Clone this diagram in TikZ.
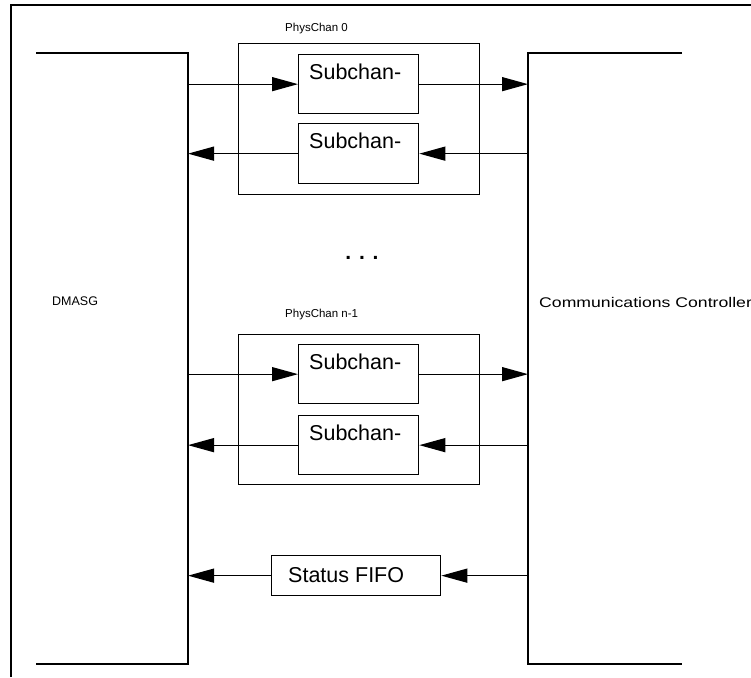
\documentclass[tikz,border=0pt]{standalone}
\usepackage{fontspec}
\setmainfont{Liberation Sans}
\usetikzlibrary{arrows.meta}
\begin{document}
\begin{tikzpicture}[x=1pt,y=-1pt,
  ln/.style={line width=1.3pt},
  box/.style={draw,line width=1.3pt,inner sep=0pt,anchor=north west},
  arr/.style={line width=1.3pt,-{Triangle[length=26pt,width=14pt]}},
  big/.style={font=\fontsize{21.5}{24}\selectfont,inner sep=0pt,anchor=base west},
  small/.style={font=\fontsize{11.5}{13}\selectfont,inner sep=0pt,anchor=base west}]
\useasboundingbox (0,0) rectangle (751,677);
\fill[white] (0,0) rectangle (751,677);
% page frame
\draw[line width=1.5pt] (11,677) -- (11,5) -- (751,5);
% bracket coordinates
\coordinate (L) at (188,53);
\coordinate (R) at (528,53);
\draw[ln] (36,53) -- (L) -- (188,664) -- (36,664);
\draw[ln] (682,53) -- (R) -- (528,664) -- (682,664);
% labels of the two sides
\node[small,font=\fontsize{12.5}{14}\selectfont] (dmasg) at (52,305) {DMASG};
\node[small,font=\fontsize{14}{16}\selectfont] (cc) at (539,307) {\scalebox{1.26}[1]{Communications Controller}};
% PhysChan 0
\node[small] (p0lab) at (285,32) {PhysChan 0};
\node[box,minimum width=241pt,minimum height=151pt] (p0) at (238,43) {};
\node[box,minimum width=120pt,minimum height=59pt] (a1) at (298,54) {};
\node[big] (a1t) at (309,79) {Subchan-};
\node[box,minimum width=120pt,minimum height=60pt] (a2) at (298,123) {};
\node[big] (a2t) at (309,148) {Subchan-};
% dots
\node[font=\bfseries\fontsize{21}{24}\selectfont,inner sep=0pt] (dots) at (362,258) {. . .};
% PhysChan n-1
\node[small] (p1lab) at (285,317) {PhysChan n-1};
\node[box,minimum width=241pt,minimum height=150pt] (p1) at (238,334) {};
\node[box,minimum width=120pt,minimum height=59pt] (b1) at (298,344) {};
\node[big] (b1t) at (309,369) {Subchan-};
\node[box,minimum width=120pt,minimum height=59pt] (b2) at (298,415) {};
\node[big] (b2t) at (309,440) {Subchan-};
% Status FIFO
\node[box,minimum width=169pt,minimum height=40pt] (fifo) at (271,555) {};
\node[big] (fifot) at (288,582) {Status FIFO};
% arrows
\draw[arr] (a1.west -| L) -- (a1.west);
\draw[arr] (a1.east) -- (a1.east -| R);
\draw[arr] (a2.east -| R) -- (a2.east);
\draw[arr] (a2.west) -- (a2.west -| L);
\draw[arr] (b1.west -| L) -- (b1.west);
\draw[arr] (b1.east) -- (b1.east -| R);
\draw[arr] (b2.east -| R) -- (b2.east);
\draw[arr] (b2.west) -- (b2.west -| L);
\draw[arr] (fifo.east -| R) -- (fifo.east);
\draw[arr] (fifo.west) -- (fifo.west -| L);
\end{tikzpicture}
\end{document}
